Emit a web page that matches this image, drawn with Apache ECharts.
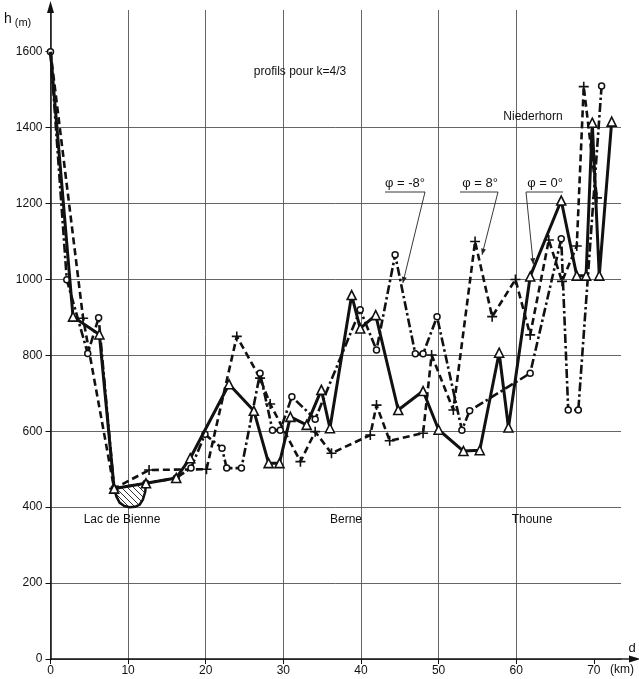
<!DOCTYPE html>
<html>
<head>
<meta charset="utf-8">
<script src="https://cdn.jsdelivr.net/npm/echarts@6/dist/echarts.min.js"></script>
<style>
html,body{margin:0;padding:0;background:#fff;}
#c{width:639px;height:679px;}
</style>
</head>
<body>
<div id="c"></div>
<script>
// ---- data (km, m) ----
const xTicks = [0, 10, 20, 30, 40, 50, 60, 70];
const yTicks = [0, 200, 400, 600, 800, 1000, 1200, 1400, 1600];

// phi = 0 deg : solid line, triangles
const phiZero = [
  [0, 1600], [2.9, 902], [6.3, 855], [8.2, 449], [12.3, 463], [16.2, 477], [18.0, 529],
  [23.0, 724], [26.2, 654], [28.1, 516], [29.5, 516], [30.9, 638], [33.0, 617],
  [34.9, 709], [36.0, 608], [38.8, 959], [39.9, 871], [41.9, 906], [44.8, 656],
  [48.0, 706], [50.0, 604], [53.2, 548], [55.3, 550], [57.8, 807], [59.0, 610],
  [61.8, 1008], [65.8, 1208], [67.8, 1010], [69.0, 1010], [69.8, 1413], [70.7, 1010],
  [72.3, 1416]
];

// phi = -8 deg : dash-dot line, circles
const phiMinus8 = [
  [0, 1600], [2.1, 999], [4.8, 805], [6.2, 899], [8.2, 449], [12.3, 463], [16.2, 477],
  [18.1, 503], [19.9, 592], [22.1, 555], [22.7, 503], [24.6, 503], [27.0, 753],
  [28.6, 603], [29.6, 603], [31.1, 691], [34.1, 632], [39.9, 920], [42.0, 814],
  [44.4, 1065], [47.0, 804], [48.0, 804], [49.8, 902], [53.0, 603], [54.0, 654],
  [61.8, 753], [65.8, 1107], [66.7, 656], [68.0, 656], [71.0, 1510]
];

// phi = 8 deg : dashed line, crosses
const phiPlus8 = [
  [0, 1600], [4.2, 898], [8.2, 449], [12.7, 498], [20.1, 500], [24.0, 850],
  [27.0, 740], [28.3, 672], [32.2, 520], [34.1, 599], [36.2, 542], [41.2, 590],
  [42.0, 669], [43.7, 575], [48.0, 595], [49.1, 801], [51.9, 656], [54.7, 1100],
  [56.9, 902], [59.9, 1000], [61.8, 854], [64.2, 1104], [65.9, 995], [67.8, 1088],
  [68.7, 1508], [70.4, 1215]
];

// Lac de Bienne (hatched)
const lakeTop = [[8.2, 449], [12.3, 463]];
const lakeBottom = [[8.2, 449], [8.5, 428], [8.9, 412], [9.5, 403], [10.2, 400], [10.9, 401],
  [11.5, 407], [11.9, 420], [12.2, 440], [12.3, 463]];

// ---- chart ----
const chart = echarts.init(document.getElementById('c'), null, {renderer: 'canvas'});

const hatch = document.createElement('canvas');
hatch.width = 6; hatch.height = 6;
(function () {
  const g = hatch.getContext('2d');
  g.fillStyle = '#fff'; g.fillRect(0, 0, 6, 6);
  g.strokeStyle = '#333'; g.lineWidth = 1;
  g.beginPath();
  g.moveTo(0, 0); g.lineTo(6, 6);
  g.moveTo(-3, 3); g.lineTo(3, 9);
  g.moveTo(3, -3); g.lineTo(9, 3);
  g.stroke();
})();

const FONT = 'Liberation Sans';
const plusPath = 'path://M4.2,0H5.8V4.2H10V5.8H5.8V10H4.2V5.8H0V4.2H4.2Z';

function withFirstHidden(arr) {
  return arr.map((p, i) => i === 0 ? {value: p, symbol: 'none'} : p);
}

const option = {
  backgroundColor: '#fff',
  animation: false,
  grid: {left: 50.5, right: 18, top: 10, bottom: 20, containLabel: false},
  xAxis: {
    type: 'value', min: 0, max: 73.5, interval: 10,
    axisLine: {show: true, lineStyle: {color: '#111', width: 1.5}, symbol: ['none', 'none']},
    axisTick: {show: true, length: 5, lineStyle: {color: '#111', width: 1}, customValues: xTicks},
    axisLabel: {color: '#111', fontFamily: FONT, fontSize: 12, margin: 6, customValues: xTicks,
      formatter: v => String(v)},
    splitLine: {show: true, showMaxLine: false, lineStyle: {color: '#555', width: 0.9}}
  },
  yAxis: {
    type: 'value', min: 0, max: 1710, interval: 200,
    axisLine: {show: true, onZero: false, lineStyle: {color: '#111', width: 1.5}, symbol: ['none', 'none']},
    axisTick: {show: true, length: 5, lineStyle: {color: '#111', width: 1}, customValues: yTicks},
    axisLabel: {color: '#111', fontFamily: FONT, fontSize: 12, margin: 8, customValues: yTicks,
      formatter: v => String(v)},
    splitLine: {show: true, showMaxLine: false, lineStyle: {color: '#555', width: 0.9}}
  },
  series: [
    {
      type: 'custom', name: 'lake', z: 1,
      data: lakeBottom,
      renderItem: function (params, api) {
        if (params.dataIndex !== 0) return null;
        const poly = lakeTop.concat(lakeBottom.slice(1, -1).reverse()).map(p => api.coord(p));
        return {
          type: 'group',
          children: [
            {type: 'polygon', shape: {points: poly}, style: {fill: {image: hatch, repeat: 'repeat'}, stroke: null}},
            {type: 'polyline', shape: {points: lakeBottom.map(p => api.coord(p))},
              style: {stroke: '#111', lineWidth: 2.5, fill: null, lineJoin: 'round'}}
          ]
        };
      }
    },
    {
      type: 'line', name: 'φ = 8°', z: 3,
      data: withFirstHidden(phiPlus8),
      symbol: plusPath, symbolSize: 10,
      itemStyle: {color: '#111'},
      lineStyle: {color: '#111', width: 2.6, type: [7, 4]}
    },
    {
      type: 'line', name: 'φ = -8°', z: 4,
      data: phiMinus8,
      symbol: 'circle', symbolSize: 6,
      itemStyle: {color: '#fff', borderColor: '#111', borderWidth: 1.5},
      lineStyle: {color: '#111', width: 2.6, type: [9, 3, 2.5, 3]}
    },
    {
      type: 'line', name: 'φ = 0°', z: 5,
      data: withFirstHidden(phiZero),
      symbol: 'triangle', symbolSize: 9,
      itemStyle: {color: '#fff', borderColor: '#111', borderWidth: 1.6},
      lineStyle: {color: '#111', width: 3}
    }
  ]
};
chart.setOption(option);

// ---- annotations ----
function px(p) { return chart.convertToPixel({gridIndex: 0}, p); }
const o = px([0, 0]);
const xEnd = px([73.5, 0]);
const yEnd = px([0, 1710]);

function txt(x, y, s, size, align, extra) {
  return Object.assign({
    type: 'text', x: x, y: y, z: 50,
    style: {text: s, fill: '#111', font: (size || 12) + 'px "' + FONT + '"', textAlign: align || 'center', textVerticalAlign: 'middle'}
  }, extra || {});
}
function line(pts, w) {
  return {type: 'polyline', z: 40, shape: {points: pts}, style: {stroke: '#222', lineWidth: w || 0.9, fill: null}};
}
function arrowHead(from, to) {
  const dx = to[0] - from[0], dy = to[1] - from[1];
  const L = Math.sqrt(dx * dx + dy * dy), ux = dx / L, uy = dy / L;
  const s = 6, w = 2.5;
  const b = [to[0] - ux * s, to[1] - uy * s];
  return {type: 'polygon', z: 40, shape: {points: [to, [b[0] - uy * w, b[1] + ux * w], [b[0] + uy * w, b[1] - ux * w]]},
    style: {fill: '#222'}};
}

const m8End = px([45.4, 991]);
const p8End = px([55.6, 1065]);
const z0End = px([62.2, 1040]);

chart.setOption({
  graphic: [
    // axis arrows
    line([[xEnd[0], o[1]], [xEnd[0] + 12, o[1]]], 1.5),
    {type: 'polygon', z: 40, shape: {points: [[xEnd[0] + 20, o[1]], [xEnd[0] + 8, o[1] - 3.5], [xEnd[0] + 8, o[1] + 3.5]]}, style: {fill: '#111'}},
    line([[o[0], yEnd[1]], [o[0], yEnd[1] - 2]], 1.5),
    {type: 'polygon', z: 40, shape: {points: [[o[0], yEnd[1] - 9], [o[0] - 3.5, yEnd[1] + 3], [o[0] + 3.5, yEnd[1] + 3]]}, style: {fill: '#111'}},
    // axis names
    txt(8, 19, 'h', 14, 'center'),
    txt(23, 23, '(m)', 11, 'center'),
    txt(632, 648, 'd', 13, 'center'),
    txt(622, 670, '(km)', 12, 'center'),
    // texts
    txt(300, 72, 'profils pour k=4/3', 12),
    txt(533, 117, 'Niederhorn', 12),
    txt(122, 520, 'Lac de Bienne', 12),
    txt(346, 520, 'Berne', 12),
    txt(532, 520, 'Thoune', 12),
    txt(405, 183, 'φ = -8°', 13),
    txt(480, 183, 'φ = 8°', 13),
    txt(545, 183, 'φ = 0°', 13),
    // leaders
    line([[385, 192], [425, 192], m8End]),
    arrowHead([425, 192], m8End),
    line([[460, 192], [498, 192], p8End]),
    arrowHead([498, 192], p8End),
    line([[563, 192], [526, 192], z0End]),
    arrowHead([526, 192], z0End)
  ]
});
</script>
</body>
</html>
